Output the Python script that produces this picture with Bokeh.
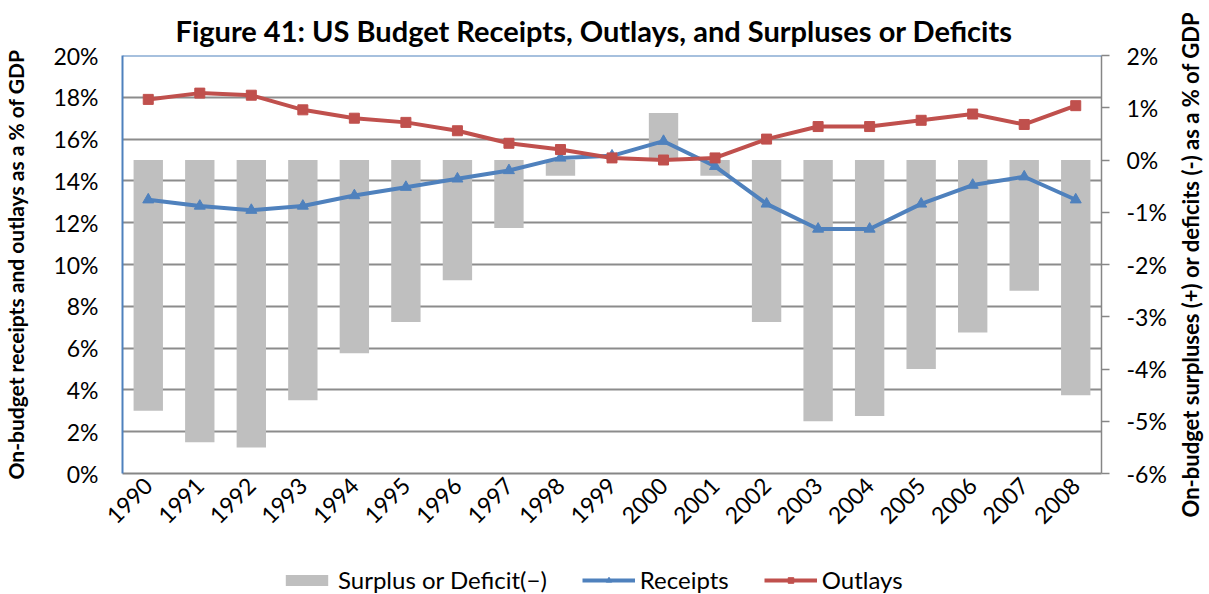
import math
from bokeh.plotting import figure
from bokeh.layouts import row, column
from bokeh.models import (Range1d, LinearAxis, FixedTicker, PrintfTickFormatter, Span,
                          Legend, LegendItem, ColumnDataSource, FactorRange)
from bokeh.embed import file_html
from bokeh.resources import INLINE

years = [str(y) for y in range(1990, 2009)]
receipts = [13.1, 12.8, 12.6, 12.8, 13.3, 13.7, 14.1, 14.5, 15.1, 15.2, 15.9, 14.7,
            12.9, 11.7, 11.7, 12.9, 13.8, 14.2, 13.1]
outlays = [17.9, 18.2, 18.1, 17.4, 17.0, 16.8, 16.4, 15.8, 15.5, 15.1, 15.0, 15.1,
           16.0, 16.6, 16.6, 16.9, 17.2, 16.7, 17.6]
surplus = [-4.8, -5.4, -5.5, -4.6, -3.7, -3.1, -2.3, -1.3, -0.3, 0.0, 0.9, -0.3,
           -3.1, -5.0, -4.9, -4.0, -3.3, -2.5, -4.5]

FONT = "Lato"
BLUE = "#4F81BD"
RED = "#C0504D"
GRAY = "#BFBFBF"
W = 1170
H = 565
LH = 29

src = ColumnDataSource(dict(year=years, receipts=receipts, outlays=outlays, surplus=surplus))

p = figure(width=W, height=H, x_range=FactorRange(*years, range_padding=0),
           y_range=Range1d(0, 20), output_backend="svg", toolbar_location=None,
           min_border_left=119, min_border_right=69, min_border_top=55, min_border_bottom=92)
p.extra_y_ranges = {"right": Range1d(-6, 2)}
p.outline_line_color = None
p.background_fill_color = "white"
p.border_fill_color = "white"

# title
p.title.text = "Figure 41: US Budget Receipts, Outlays, and Surpluses or Deficits"
p.title.align = "left"
p.title.offset = 53
p.title.text_font = FONT
p.title.text_font_size = "29px"
p.title.text_font_style = "bold"
p.title.text_color = "black"
p.title.standoff = 15

# grid
p.xgrid.grid_line_color = None
p.ygrid.ticker = FixedTicker(ticks=list(range(0, 21, 2)))
p.ygrid.grid_line_color = "#8C8C8C"
p.ygrid.grid_line_width = 1.8

# bars
bar_kw = dict(x="year", top="surplus", bottom=0, width=0.57, fill_color=GRAY, line_color=None)
p.vbar(source=src, y_range_name="right", **bar_kw)

# lines
rl_kw = dict(line_color=BLUE, line_width=4)
rm_kw = dict(marker="triangle", size=11, fill_color=BLUE, line_color=BLUE)
ol_kw = dict(line_color=RED, line_width=4)
om_kw = dict(marker="square", size=10, fill_color=RED, line_color=RED)
p.line("year", "receipts", source=src, **rl_kw)
p.scatter("year", "receipts", source=src, **rm_kw)
p.line("year", "outlays", source=src, **ol_kw)
p.scatter("year", "outlays", source=src, **om_kw)

p.add_layout(Span(location=20, dimension="width", line_color=BLUE, line_width=2))

# left axis
ya = p.yaxis[0]
ya.ticker = FixedTicker(ticks=list(range(0, 21, 2)))
ya.formatter = PrintfTickFormatter(format="%d%%")
ya.axis_line_color = BLUE
ya.axis_line_width = 2
ya.major_tick_out = 0
ya.major_tick_in = 0
ya.minor_tick_out = 0
ya.minor_tick_in = 0
ya.major_label_standoff = 24
ya.major_label_text_font = FONT
ya.major_label_text_font_size = "23px"
ya.major_label_text_color = "black"
ya.axis_label = "On-budget receipts and outlays as a % of GDP"
ya.axis_label_standoff = 22
ya.axis_label_text_font = FONT
ya.axis_label_text_font_size = "21px"
ya.axis_label_text_font_style = "bold"
ya.axis_label_text_color = "black"

# right axis
ra = LinearAxis(y_range_name="right", ticker=FixedTicker(ticks=list(range(-6, 3))),
                formatter=PrintfTickFormatter(format="%d%%"))
ra.axis_line_color = "#868686"
ra.axis_line_width = 1.5
ra.major_tick_line_color = "#868686"
ra.major_tick_line_width = 1.5
ra.major_tick_out = 8
ra.major_tick_in = 0
ra.minor_tick_out = 0
ra.minor_tick_in = 0
ra.major_label_standoff = 17
ra.major_label_text_font = FONT
ra.major_label_text_font_size = "23px"
ra.major_label_text_color = "black"
p.add_layout(ra, "right")

# x axis
xa = p.xaxis[0]
xa.axis_line_color = "#868686"
xa.axis_line_width = 2
xa.major_tick_out = 0
xa.major_tick_in = 0
xa.major_label_orientation = math.pi / 4
xa.major_label_standoff = 8
xa.major_label_text_font = FONT
xa.major_label_text_font_size = "23px"
xa.major_label_text_color = "black"

# right-hand axis title, reading bottom-to-top, in a narrow companion panel
q = figure(width=37, height=H, x_range=Range1d(0, 1), y_range=Range1d(0, 1),
           output_backend="svg", toolbar_location=None,
           min_border_left=33, min_border_right=0, min_border_top=0, min_border_bottom=0)
q.xaxis.visible = False
q.grid.visible = False
q.outline_line_color = None
qa = q.yaxis[0]
qa.ticker = FixedTicker(ticks=[])
qa.axis_line_color = None
qa.major_tick_out = 0
qa.minor_tick_out = 0
qa.major_label_text_font_size = "0px"
qa.axis_label = "On-budget surpluses (+) or deficits (-) as a % of GDP"
qa.axis_label_standoff = 0
qa.axis_label_text_font = FONT
qa.axis_label_text_font_size = "22px"
qa.axis_label_text_font_style = "bold"
qa.axis_label_text_color = "black"

# legend strip: same series drawn into an out-of-view range, only their legend shows
lg = figure(width=W, height=LH, x_range=p.x_range, y_range=Range1d(1000, 1001),
            output_backend="svg", toolbar_location=None, min_border=0)
lg.axis.visible = False
lg.grid.visible = False
lg.outline_line_color = None
lb = lg.vbar(source=src, **bar_kw)
lrl = lg.line("year", "receipts", source=src, **rl_kw)
lrm = lg.scatter("year", "receipts", source=src, **rm_kw)
lol = lg.line("year", "outlays", source=src, **ol_kw)
lom = lg.scatter("year", "outlays", source=src, **om_kw)
legend = Legend(items=[LegendItem(label="Surplus or Deficit(\u2212)", renderers=[lb]),
                       LegendItem(label="Receipts", renderers=[lrl, lrm]),
                       LegendItem(label="Outlays", renderers=[lol, lom])],
                location=(280, 0), orientation="horizontal",
                label_text_font=FONT, label_text_font_size="24px", label_text_color="black",
                glyph_width=53, glyph_height=14, spacing=35, label_standoff=5,
                padding=0, margin=0, border_line_alpha=0, background_fill_alpha=0)
lg.add_layout(legend)

layout = column(row(p, q, spacing=0), lg, spacing=0)
open("out.html", "w").write(file_html(layout, INLINE))
